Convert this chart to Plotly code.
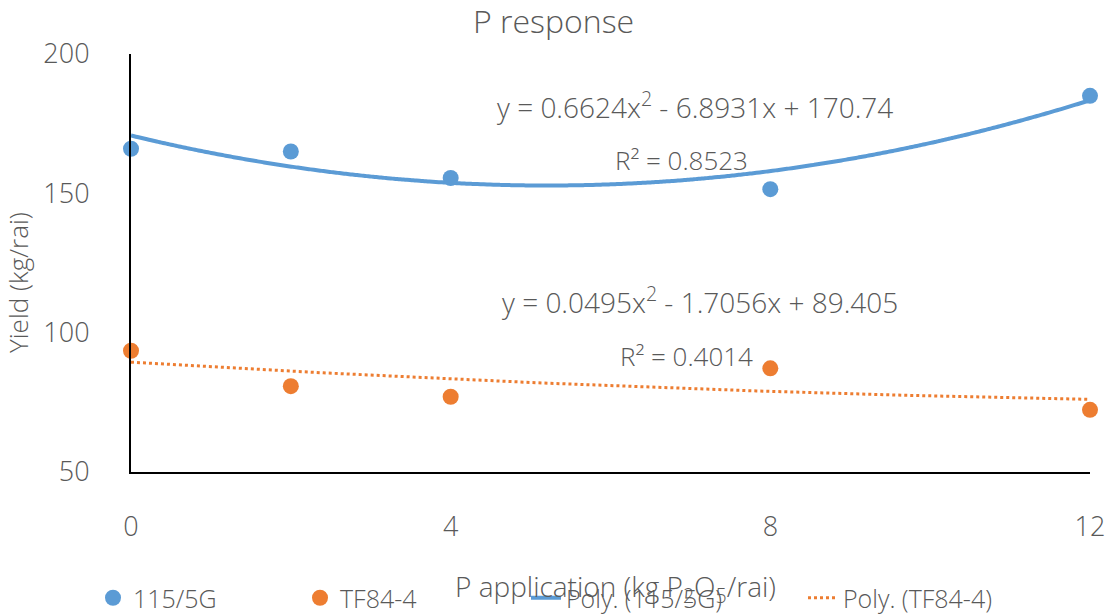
import numpy as np
import plotly.graph_objects as go

# Data
x_rates = [0, 2, 4, 8, 12]
yield_115 = [166, 165, 155.5, 151.5, 185]
yield_tf = [93.5, 80.8, 77, 87.2, 72.3]
coef_115 = [0.6624, -6.8931, 170.74]   # trendline y = a x^2 + b x + c
coef_tf = [0.0495, -1.7056, 89.405]
eq_115 = "y = 0.6624x<sup>2</sup> - 6.8931x + 170.74"
r2_115 = "R² = 0.8523"
eq_tf = "y = 0.0495x<sup>2</sup> - 1.7056x + 89.405"
r2_tf = "R² = 0.4014"
x_ticks = [0, 4, 8, 12]
y_ticks = [50, 100, 150, 200]

BLUE = "#5B9BD5"
ORANGE = "#ED7D31"
GREY = "#595959"
FONT = "Open Sans"
W, H = 1113, 614
ML, MR, MT, MB = 131, 23, 54, 142
PW, PH = W - ML - MR, H - MT - MB

xs = np.linspace(0, 12, 300)
fit_115 = np.polyval(coef_115, xs)
fit_tf = np.polyval(coef_tf, xs)

fig = go.Figure()
fig.add_trace(go.Scatter(x=xs, y=fit_115, mode="lines", name="Poly. (115/5G)",
                         line=dict(color=BLUE, width=4, shape="spline"), legend="legend3"))
fig.add_trace(go.Scatter(x=xs, y=fit_tf, mode="lines", name="Poly. (TF84-4)",
                         line=dict(color=ORANGE, width=3, dash="dot"), legend="legend4"))
fig.add_trace(go.Scatter(x=x_rates, y=yield_115, mode="markers", name="115/5G",
                         marker=dict(color=BLUE, size=16), cliponaxis=False, legend="legend"))
fig.add_trace(go.Scatter(x=x_rates, y=yield_tf, mode="markers", name="TF84-4",
                         marker=dict(color=ORANGE, size=16), cliponaxis=False, legend="legend2"))


def fnt(size):
    return dict(family=FONT, size=size, color=GREY, weight=300)


def leg(px_x):
    return dict(x=px_x / W, y=1 - 598 / H, xref="container", yref="container",
                xanchor="left", yanchor="middle", orientation="h",
                bgcolor="rgba(0,0,0,0)", font=fnt(25))


def ann(text, x, y, size=28, **kw):
    return dict(text=text, x=(x - ML) / PW, y=(H - MB - y) / PH, xref="paper", yref="paper",
                xanchor="center", yanchor="middle", showarrow=False, font=fnt(size), **kw)


annots = [
    ann("P response", 553, 21, 32),
    ann("Yield (kg/rai)", 18, 283, 26, textangle=-90),
    ann("P application (kg P<sub>2</sub>O<sub>5</sub>/rai)", 615, 588, 28),
    ann(eq_115, 695, 105),
    ann(r2_115, 681, 160, 26),
    ann(eq_tf, 700, 300),
    ann(r2_tf, 686, 356, 26),
]

fig.update_layout(
    width=W, height=H,
    margin=dict(l=ML, r=MR, t=MT, b=MB, autoexpand=False),
    paper_bgcolor="white", plot_bgcolor="white",
    font=dict(family=FONT, color=GREY),
    showlegend=True,
    annotations=annots,
    legend=leg(93), legend2=leg(300), legend3=leg(526), legend4=leg(803),
    xaxis=dict(range=[0, 12], tickvals=x_ticks, showgrid=False, zeroline=False,
               showline=True, linecolor="black", linewidth=2, ticks="",
               ticklabelstandoff=30, tickfont=fnt(27)),
    yaxis=dict(range=[50, 200], tickvals=y_ticks, showgrid=False, zeroline=False,
               showline=True, linecolor="black", linewidth=2, ticks="",
               ticklabelstandoff=34, tickfont=fnt(27)),
)

fig.write_html("out.html")
